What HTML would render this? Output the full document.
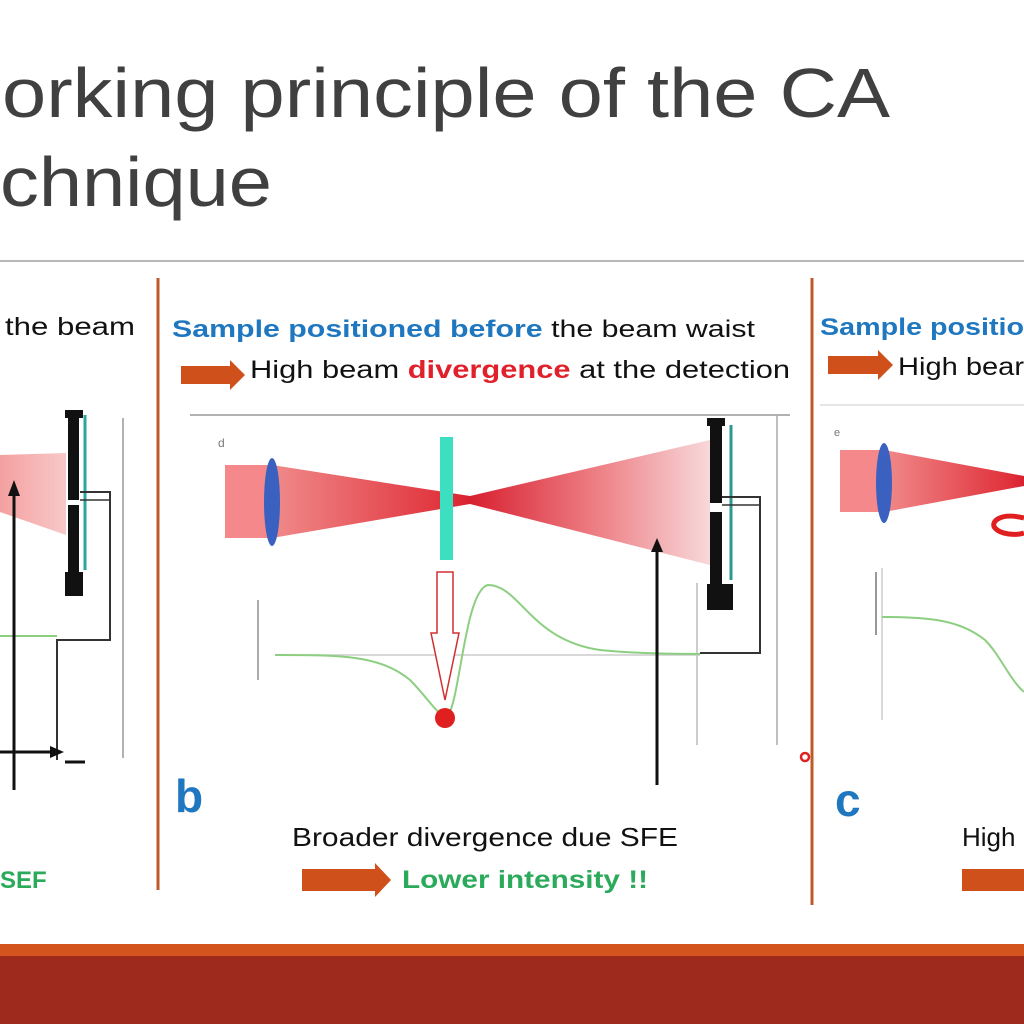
<!DOCTYPE html>
<html><head><style>html,body{margin:0;padding:0;background:#fff;width:1024px;height:1024px;overflow:hidden}</style></head>
<body>
<svg width="1024" height="1024" viewBox="0 0 1024 1024" xmlns="http://www.w3.org/2000/svg" font-family="Liberation Sans, sans-serif">
<defs>
<linearGradient id="cb" x1="0" x2="1"><stop offset="0" stop-color="#f08a8a"/><stop offset="0.9" stop-color="#e0303a"/><stop offset="1" stop-color="#d82030"/></linearGradient>
<linearGradient id="cb2" x1="0" x2="1"><stop offset="0" stop-color="#d82030"/><stop offset="0.5" stop-color="#ec7a80"/><stop offset="1" stop-color="#f8d8da"/></linearGradient>
<linearGradient id="ca" x1="0" x2="1"><stop offset="0" stop-color="#f4a0a0"/><stop offset="1" stop-color="#f8c8c8"/></linearGradient>
</defs>
<rect width="1024" height="1024" fill="#fff"/>
<!-- title -->
<text x="2" y="117" font-size="70" fill="#404040" textLength="888" lengthAdjust="spacingAndGlyphs">orking principle of the CA</text>
<text x="0" y="206" font-size="70" fill="#404040" textLength="272" lengthAdjust="spacingAndGlyphs">chnique</text>
<line x1="0" y1="261" x2="1024" y2="261" stroke="#a0a0a0" stroke-width="1.5"/>
<!-- dividers -->
<line x1="158" y1="278" x2="158" y2="890" stroke="#c0582a" stroke-width="3"/>
<line x1="812" y1="278" x2="812" y2="905" stroke="#c0582a" stroke-width="3"/>
<!-- bottom bar -->
<rect x="0" y="944" width="1024" height="12" fill="#d4541e"/>
<rect x="0" y="956" width="1024" height="68" fill="#9e2a1e"/>

<!-- PANEL A -->
<text x="5" y="335" font-size="25" fill="#111" textLength="130" lengthAdjust="spacingAndGlyphs">the beam</text>
<polygon points="0,455 66,453 66,535 0,512" fill="url(#ca)"/>
<rect x="68" y="410" width="11" height="90" fill="#111"/>
<rect x="68" y="505" width="11" height="80" fill="#111"/>
<rect x="65" y="410" width="18" height="8" fill="#111"/>
<rect x="65" y="572" width="18" height="24" fill="#111"/>
<line x1="85" y1="415" x2="85" y2="570" stroke="#2aa6a0" stroke-width="3"/>
<polyline points="80,492 110,492 110,640 57,640 57,760" fill="none" stroke="#333" stroke-width="2"/>
<line x1="80" y1="500" x2="110" y2="500" stroke="#333" stroke-width="1.5"/>
<line x1="123" y1="418" x2="123" y2="758" stroke="#999" stroke-width="1.5"/>
<line x1="0" y1="636" x2="57" y2="636" stroke="#8ccf80" stroke-width="2"/>
<line x1="14" y1="790" x2="14" y2="490" stroke="#111" stroke-width="3"/>
<polygon points="14,480 8,496 20,496" fill="#111"/>
<line x1="0" y1="752" x2="52" y2="752" stroke="#111" stroke-width="3"/>
<polygon points="64,752 50,746 50,758" fill="#111"/>
<line x1="65" y1="762" x2="85" y2="762" stroke="#111" stroke-width="3"/>
<text x="0" y="888" font-size="24" font-weight="bold" fill="#2aaa5a">SEF</text>

<!-- PANEL B -->
<text x="172" y="337" font-size="24" fill="#111" textLength="583" lengthAdjust="spacingAndGlyphs"><tspan fill="#1f77c0" font-weight="bold">Sample positioned before</tspan> the beam waist</text>
<polygon points="181,366 230,366 230,360 245,375 230,390 230,384 181,384" fill="#d0501c"/>
<text x="250" y="378" font-size="25" fill="#111" textLength="540" lengthAdjust="spacingAndGlyphs">High beam <tspan fill="#e0202a" font-weight="bold">divergence</tspan> at the detection</text>
<line x1="190" y1="415" x2="790" y2="415" stroke="#999" stroke-width="1.5"/>
<text x="218" y="447" font-size="12" fill="#777">d</text>
<rect x="225" y="465" width="47" height="73" fill="#f4888a"/>
<polygon points="272,465 470,496 470,504 272,538" fill="url(#cb)"/>
<polygon points="470,496 710,440 710,565 470,504" fill="url(#cb2)"/>
<ellipse cx="272" cy="502" rx="8" ry="44" fill="#3a60c0"/>
<rect x="440" y="437" width="13" height="123" fill="#3ce0c0"/>
<rect x="710" y="418" width="12" height="85" fill="#111"/>
<rect x="710" y="512" width="12" height="75" fill="#111"/>
<rect x="707" y="418" width="18" height="8" fill="#111"/>
<rect x="707" y="584" width="26" height="26" fill="#111"/>
<line x1="731" y1="425" x2="731" y2="580" stroke="#2a9a90" stroke-width="3"/>
<polyline points="722,497 760,497 760,653 700,653" fill="none" stroke="#333" stroke-width="2"/>
<line x1="722" y1="505" x2="760" y2="505" stroke="#333" stroke-width="1.5"/>
<line x1="777" y1="415" x2="777" y2="745" stroke="#aaa" stroke-width="1.5"/>
<line x1="697" y1="583" x2="697" y2="745" stroke="#bbb" stroke-width="1.5"/>
<line x1="258" y1="600" x2="258" y2="680" stroke="#aaa" stroke-width="2"/>
<line x1="275" y1="655" x2="700" y2="655" stroke="#ccc" stroke-width="1.5"/>
<path d="M275,655 C340,655 380,655 410,680 C430,700 440,720 448,715 C460,700 465,590 488,585 C520,585 530,640 600,650 C640,654 680,654 700,654" fill="none" stroke="#8ccf80" stroke-width="2"/>
<polygon points="437,572 453,572 453,633 459,633 445,700 431,633 437,633" fill="#fff" stroke="#d03030" stroke-width="1.5"/>
<circle cx="445" cy="718" r="10" fill="#e02020"/>
<line x1="657" y1="785" x2="657" y2="548" stroke="#111" stroke-width="3"/>
<polygon points="657,538 651,552 663,552" fill="#111"/>
<text x="175" y="812" font-size="46" font-weight="bold" fill="#1f77c0">b</text>
<text x="292" y="846" font-size="26" fill="#111" textLength="386" lengthAdjust="spacingAndGlyphs">Broader divergence due SFE</text>
<polygon points="302,869 375,869 375,863 391,880 375,897 375,891 302,891" fill="#d0501c"/>
<text x="402" y="888" font-size="25" font-weight="bold" fill="#2aaa5a" textLength="246" lengthAdjust="spacingAndGlyphs">Lower intensity !!</text>

<!-- PANEL C -->
<text x="820" y="335" font-size="24" font-weight="bold" fill="#1f77c0" textLength="204" lengthAdjust="spacingAndGlyphs">Sample positio</text>
<polygon points="828,356 878,356 878,350 893,365 878,380 878,374 828,374" fill="#d0501c"/>
<text x="898" y="375" font-size="25" fill="#111" textLength="126" lengthAdjust="spacingAndGlyphs">High bear</text>
<line x1="820" y1="405" x2="1024" y2="405" stroke="#ddd" stroke-width="1.5"/>
<text x="834" y="436" font-size="11" fill="#777">e</text>
<rect x="840" y="450" width="44" height="62" fill="#f4888a"/>
<polygon points="884,450 1024,476 1024,486 884,512" fill="url(#cb)"/>
<ellipse cx="884" cy="483" rx="8" ry="40" fill="#3a60c0"/>
<path d="M1024,518 C1000,512 990,522 995,528 C1000,534 1015,536 1024,533" fill="none" stroke="#e02020" stroke-width="5"/>
<line x1="882" y1="568" x2="882" y2="720" stroke="#ccc" stroke-width="1.5"/>
<line x1="876" y1="572" x2="876" y2="635" stroke="#999" stroke-width="2"/>
<path d="M882,617 C930,617 960,620 985,640 C1000,655 1010,680 1024,692" fill="none" stroke="#8ccf80" stroke-width="2"/>
<circle cx="805" cy="757" r="4" fill="none" stroke="#e02020" stroke-width="2.5"/>
<text x="835" y="816" font-size="46" font-weight="bold" fill="#1f77c0">c</text>
<text x="962" y="846" font-size="26" fill="#111">High</text>
<polygon points="962,869 1024,869 1024,891 962,891" fill="#d0501c"/>
</svg>
</body></html>
